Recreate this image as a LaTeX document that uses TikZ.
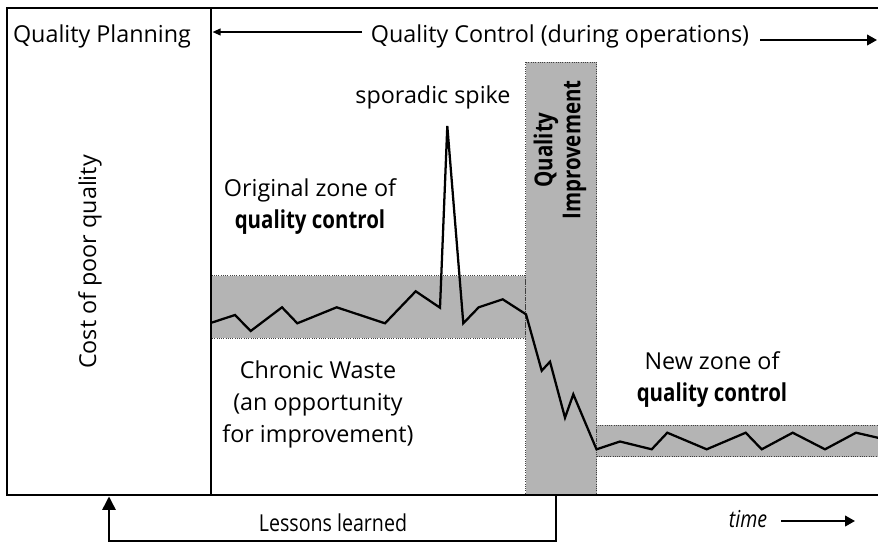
\documentclass[tikz,border=0pt]{standalone}
\usepackage{fontspec}
\setmainfont{Open Sans}
\usepackage{graphicx}
\usetikzlibrary{arrows.meta}
\definecolor{zonegray}{RGB}{180,180,180}
\newcommand{\bcond}[1]{\scalebox{0.83}[1]{\fontsize{18.5}{25}\selectfont\bfseries #1}}
\newcommand{\rcond}[1]{\scalebox{0.84}[1]{#1}}

\begin{document}
\begin{tikzpicture}[x=0.75pt,y=0.75pt,yscale=-1,xscale=1,
  frame/.style={line width=2pt},
  zone/.style={fill=zonegray,draw=black!75,densely dotted,line width=0.7pt},
  trace/.style={line width=1.7pt,line join=miter},
  lbl/.style={font=\fontsize{17.5}{24}\selectfont,inner sep=0.75pt,align=center},
  thinarrow/.style={line width=1.2pt,-{Triangle[length=6pt,width=5pt]}},
  fatarrow/.style={line width=1.5pt,-{Triangle[length=7.5pt,width=8pt]}}]
\useasboundingbox (0,0) rectangle (878,543);

%Zones
\draw [zone] (211,275.5) rectangle (525.5,338);
\draw [zone] (525.5,62) rectangle (596.5,495);
\draw [zone] (596.5,425) rectangle (880,456.5);

%Cost trace
\draw [trace] (211.5,322.7) -- (235,315) -- (250.7,331) -- (282,307.3) -- (297.3,323.3) -- (336.7,307.3) -- (385,323.3) -- (415.7,291.3) -- (440,307.7) -- (447.3,126) -- (463.3,323.3) -- (478.7,307.3) -- (502.7,299.3) -- (526,314.3) -- (541.7,370.7) -- (550,361.7) -- (565,417.7) -- (573.3,394.3) -- (596.5,449.3) -- (620,441.5) -- (651.7,449.3) -- (667.3,432.7) -- (706.7,449.3) -- (745.7,432.7) -- (761.7,449.3) -- (792.7,432.7) -- (825,449.3) -- (856,432.7) -- (879,438);

%Frame
\draw [frame] (878,8) -- (7,8) -- (7,495) -- (878,495);
\draw [frame] (211,8) -- (211,495);

% Text Node
\node [lbl] (qp) at (102,36) {Quality Planning};
% Text Node
\node [lbl] (qc) at (560,36) {Quality Control (during operations)};
% Text Node
\node [lbl] (spike) at (433,97) {sporadic spike};
% Text Node
\node [lbl,font=\fontsize{17.5}{24}\selectfont] (orig) at (310,207) {Original zone of\\\bcond{quality control}};
% Text Node
\node [lbl,rotate=90] (copq) at (90,262) {Cost of poor quality};
% Text Node
\node [lbl,rotate=90,font=\fontsize{17.5}{21}\selectfont] (qi) at (560,150) {\bcond{Quality}\\\bcond{Improvement}};
% Text Node
\node [lbl] (waste) at (318,404) {Chronic Waste\\(an opportunity\\for improvement)};
% Text Node
\node [lbl,font=\fontsize{17.5}{24}\selectfont] (newz) at (712,380) {New zone of\\\bcond{quality control}};
% Text Node
\node [lbl] (lessons) at (333,523) {\rcond{Lessons learned}};
% Text Node
\node [lbl] (time) at (748,519) {\rcond{\itshape time}};

%Arrows
\coordinate (qcl) at (362,32);
\coordinate (divtop) at (212.5,32);
\draw [thinarrow] (qcl) -- (divtop);
\coordinate (qcr) at (760,40);
\coordinate (edge) at (877,40);
\draw [fatarrow] (qcr) -- (edge);
\coordinate (tl) at (781,521);
\coordinate (tr) at (855,521);
\draw [fatarrow] (tl) -- (tr);
\coordinate (lsrc) at (556,495);
\coordinate (ldst) at (109,496.5);
\draw [line width=1.1pt,-{Triangle[length=10pt,width=10pt]}] (lsrc) -- (lsrc |- 0,541) -- (ldst |- 0,541) -- (ldst);

\end{tikzpicture}
\end{document}
